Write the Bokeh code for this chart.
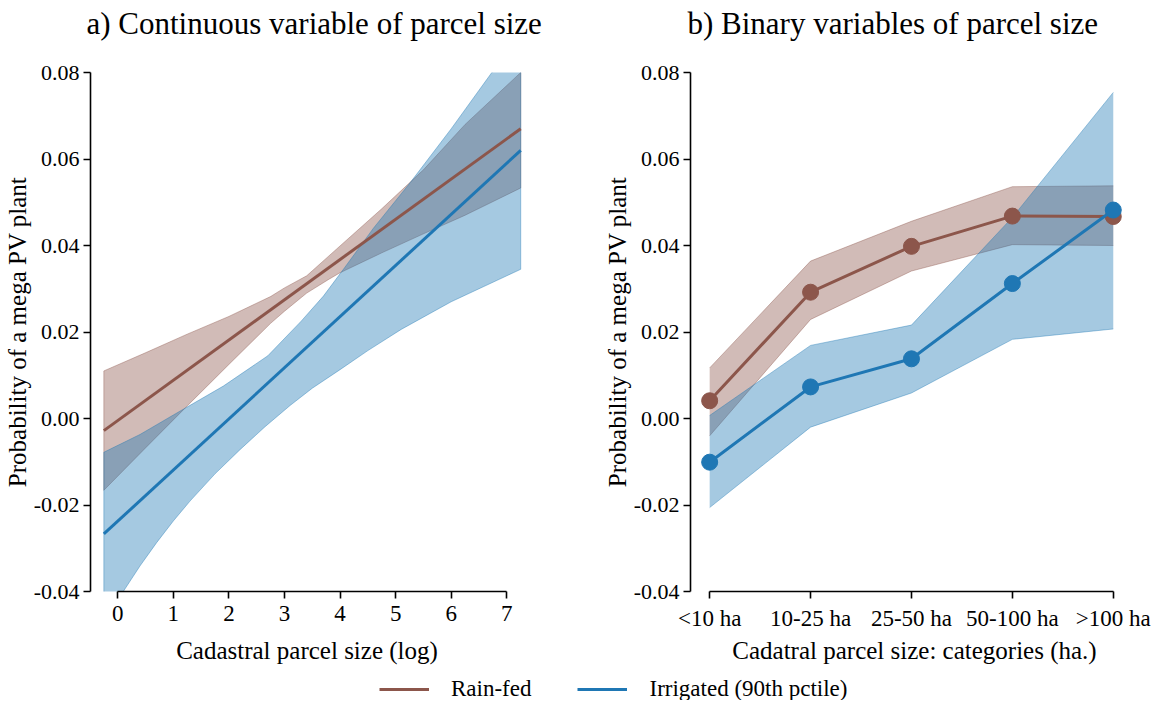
from bokeh.plotting import figure
from bokeh.layouts import row, column
from bokeh.models import FixedTicker, PrintfTickFormatter, Legend, LegendItem, ColumnDataSource, Title
from bokeh.embed import file_html
from bokeh.resources import INLINE

# ---------------- data ----------------
# Panel a) continuous log parcel size
cont_x_line = [-0.25, 7.25]
rain_line = [-0.0028, 0.0670]
irr_line = [-0.0267, 0.0620]

rain_band_x = [-0.25, 0.5, 1.25, 2.0, 2.75, 3.0, 3.4, 3.8, 4.0, 4.75, 5.5, 6.25, 7.25]
rain_band_lo = [-0.0166, -0.0068, 0.0029, 0.0125, 0.0220, 0.0248, 0.0290, 0.0322, 0.0337, 0.0383, 0.0427, 0.0470, 0.0533]
rain_band_hi = [0.0110, 0.0152, 0.0195, 0.0236, 0.0282, 0.0302, 0.0330, 0.0376, 0.0399, 0.0485, 0.0575, 0.0680, 0.0800]

irr_hi_x = [-0.25, 0.4, 1.0, 1.9, 2.7, 3.3, 3.7, 4.06, 4.6, 5.26, 6.0, 6.73, 7.25]
irr_hi = [-0.0078, -0.0037, 0.0008, 0.0075, 0.0145, 0.0225, 0.0283, 0.0345, 0.0440, 0.0545, 0.0670, 0.0800, 0.0890]
irr_lo_x = [-0.25, 0.1, 0.4, 0.7, 1.0, 1.3, 1.75, 2.2, 2.65, 3.1, 3.5, 4.0, 4.5, 5.1, 6.0, 7.25]
irr_lo = [-0.0465, -0.0400, -0.0341, -0.0287, -0.0237, -0.0191, -0.0128, -0.0072, -0.0019, 0.0030, 0.0070, 0.0113, 0.0157, 0.0206, 0.0270, 0.0345]

cont_ticks = [0, 1, 2, 3, 4, 5, 6, 7]

# Panel b) categories
cats = ["<10 ha", "10-25 ha", "25-50 ha", "50-100 ha", ">100 ha"]
rain_pt = [0.0041, 0.0292, 0.0398, 0.0468, 0.0467]
rain_lo_c = [-0.0040, 0.0229, 0.0341, 0.0402, 0.0400]
rain_hi_c = [0.0117, 0.0364, 0.0456, 0.0536, 0.0538]
irr_pt = [-0.0101, 0.0073, 0.0138, 0.0312, 0.0482]
irr_lo_c = [-0.0206, -0.0020, 0.0059, 0.0183, 0.0207]
irr_hi_c = [0.0007, 0.0169, 0.0216, 0.0465, 0.0754]

y_ticks = [-0.04, -0.02, 0.0, 0.02, 0.04, 0.06, 0.08]

titles = ["a) Continuous variable of parcel size", "b) Binary variables of parcel size"]
x_labels = ["Cadastral parcel size (log)", "Cadatral parcel size: categories (ha.)"]
y_label = "Probability of a mega PV plant"
legend_labels = ["Rain-fed", "Irrigated (90th pctile)"]

BROWN = "#8c564b"
BLUE = "#1f77b4"
FONT = "Liberation Serif"


def style(p, xlabel, title, title_offset, xlabel_standoff):
    p.outline_line_color = None
    p.xgrid.visible = False
    p.ygrid.visible = False
    # spacer title (closest to frame), then the real title above it
    p.add_layout(Title(text=" ", text_font_size="26px", standoff=0), "above")
    p.add_layout(Title(text=title, text_font=FONT, text_font_size="31px",
                       text_font_style="normal", align="left", offset=title_offset,
                       standoff=0, text_color="black"), "above")
    for ax in (p.xaxis[0], p.yaxis[0]):
        ax.axis_line_color = "black"
        ax.axis_line_width = 1.6
        ax.major_tick_line_color = "black"
        ax.major_tick_line_width = 1.6
        ax.major_tick_out = 7
        ax.major_tick_in = 0
        ax.minor_tick_line_color = None
        ax.major_label_text_font = FONT
        ax.major_label_text_color = "black"
        ax.axis_label_text_font = FONT
        ax.axis_label_text_font_size = "25px"
        ax.axis_label_text_font_style = "normal"
        ax.axis_label_text_color = "black"
    ya = p.yaxis[0]
    ya.major_label_text_font_size = "22px"
    ya.major_label_standoff = 4
    ya.axis_label_standoff = 0
    ya.ticker = FixedTicker(ticks=y_ticks)
    ya.formatter = PrintfTickFormatter(format="%.2f")
    ya.bounds = (-0.04, 0.08)
    ya.axis_label = y_label
    xa = p.xaxis[0]
    xa.major_label_text_font_size = "23px"
    xa.major_label_standoff = 7
    xa.axis_label_standoff = xlabel_standoff
    xa.axis_label = xlabel


H = 676
# ---------------- panel a ----------------
p1 = figure(width=597, height=H, x_range=(-0.49, 7.3), y_range=(-0.04, 0.08),
            output_backend="svg", toolbar_location=None,
            min_border_left=90, min_border_right=74, min_border_top=72, min_border_bottom=85)
style(p1, x_labels[0], titles[0], -4, 13)
p1.xaxis[0].ticker = FixedTicker(ticks=cont_ticks)
p1.xaxis[0].bounds = (0, 7)

p1.patch(rain_band_x + rain_band_x[::-1], rain_band_hi + rain_band_lo[::-1],
         fill_color=BROWN, fill_alpha=0.4, line_color=BROWN, line_alpha=0.4, line_width=1)
p1.patch(irr_hi_x + irr_lo_x[::-1], irr_hi + irr_lo[::-1],
         fill_color=BLUE, fill_alpha=0.4, line_color=BLUE, line_alpha=0.4, line_width=1)
p1.line(cont_x_line, rain_line, line_color=BROWN, line_width=3)
p1.line(cont_x_line, irr_line, line_color=BLUE, line_width=3)

# ---------------- panel b ----------------
xpos = list(range(len(cats)))
p2 = figure(width=561, height=H, x_range=(-0.19, 4.25), y_range=(-0.04, 0.08),
            output_backend="svg", toolbar_location=None,
            min_border_left=93, min_border_right=20, min_border_top=72, min_border_bottom=85)
style(p2, x_labels[1], titles[1], -3, 3)
p2.xaxis[0].ticker = FixedTicker(ticks=xpos)
p2.xaxis[0].major_label_overrides = {i: c for i, c in zip(xpos, cats)}
p2.xaxis[0].bounds = (0, 4)

src = ColumnDataSource(dict(x=xpos, rain=rain_pt, rlo=rain_lo_c, rhi=rain_hi_c,
                            irr=irr_pt, ilo=irr_lo_c, ihi=irr_hi_c))
p2.varea(x="x", y1="rlo", y2="rhi", source=src, fill_color=BROWN, fill_alpha=0.4)
p2.line(x="x", y="rlo", source=src, line_color=BROWN, line_alpha=0.4, line_width=1)
p2.line(x="x", y="rhi", source=src, line_color=BROWN, line_alpha=0.4, line_width=1)
p2.varea(x="x", y1="ilo", y2="ihi", source=src, fill_color=BLUE, fill_alpha=0.4)
p2.line(x="x", y="ilo", source=src, line_color=BLUE, line_alpha=0.4, line_width=1)
p2.line(x="x", y="ihi", source=src, line_color=BLUE, line_alpha=0.4, line_width=1)
p2.line(x="x", y="rain", source=src, line_color=BROWN, line_width=3)
p2.scatter(x="x", y="rain", source=src, size=16, fill_color=BROWN, line_color=BROWN)
p2.line(x="x", y="irr", source=src, line_color=BLUE, line_width=3)
p2.scatter(x="x", y="irr", source=src, size=16, fill_color=BLUE, line_color=BLUE)

# ---------------- legend ----------------
p3 = figure(width=1158, height=24, x_range=(0, 1), y_range=(0, 1),
            output_backend="svg", toolbar_location=None, min_border=0)
p3.axis.visible = False
p3.xgrid.visible = False
p3.ygrid.visible = False
p3.outline_line_color = None
# legend proxies: drawn outside the visible range so only the legend glyph shows
r1 = p3.line(x=[5, 6], y=[5, 5], line_color=BROWN, line_width=3)
r2 = p3.line(x=[5, 6], y=[5, 5], line_color=BLUE, line_width=3)
legend = Legend(items=[LegendItem(label=legend_labels[0], renderers=[r1]),
                       LegendItem(label=legend_labels[1], renderers=[r2])],
                orientation="horizontal", location=(379, -2),
                glyph_width=50, glyph_height=22, label_standoff=22, spacing=46,
                padding=0, margin=0, border_line_color=None, background_fill_alpha=0,
                label_text_font=FONT, label_text_font_size="23px", label_text_color="black")
p3.add_layout(legend)

layout = column(row(p1, p2), p3)
open("out.html", "w").write(file_html(layout, INLINE))
